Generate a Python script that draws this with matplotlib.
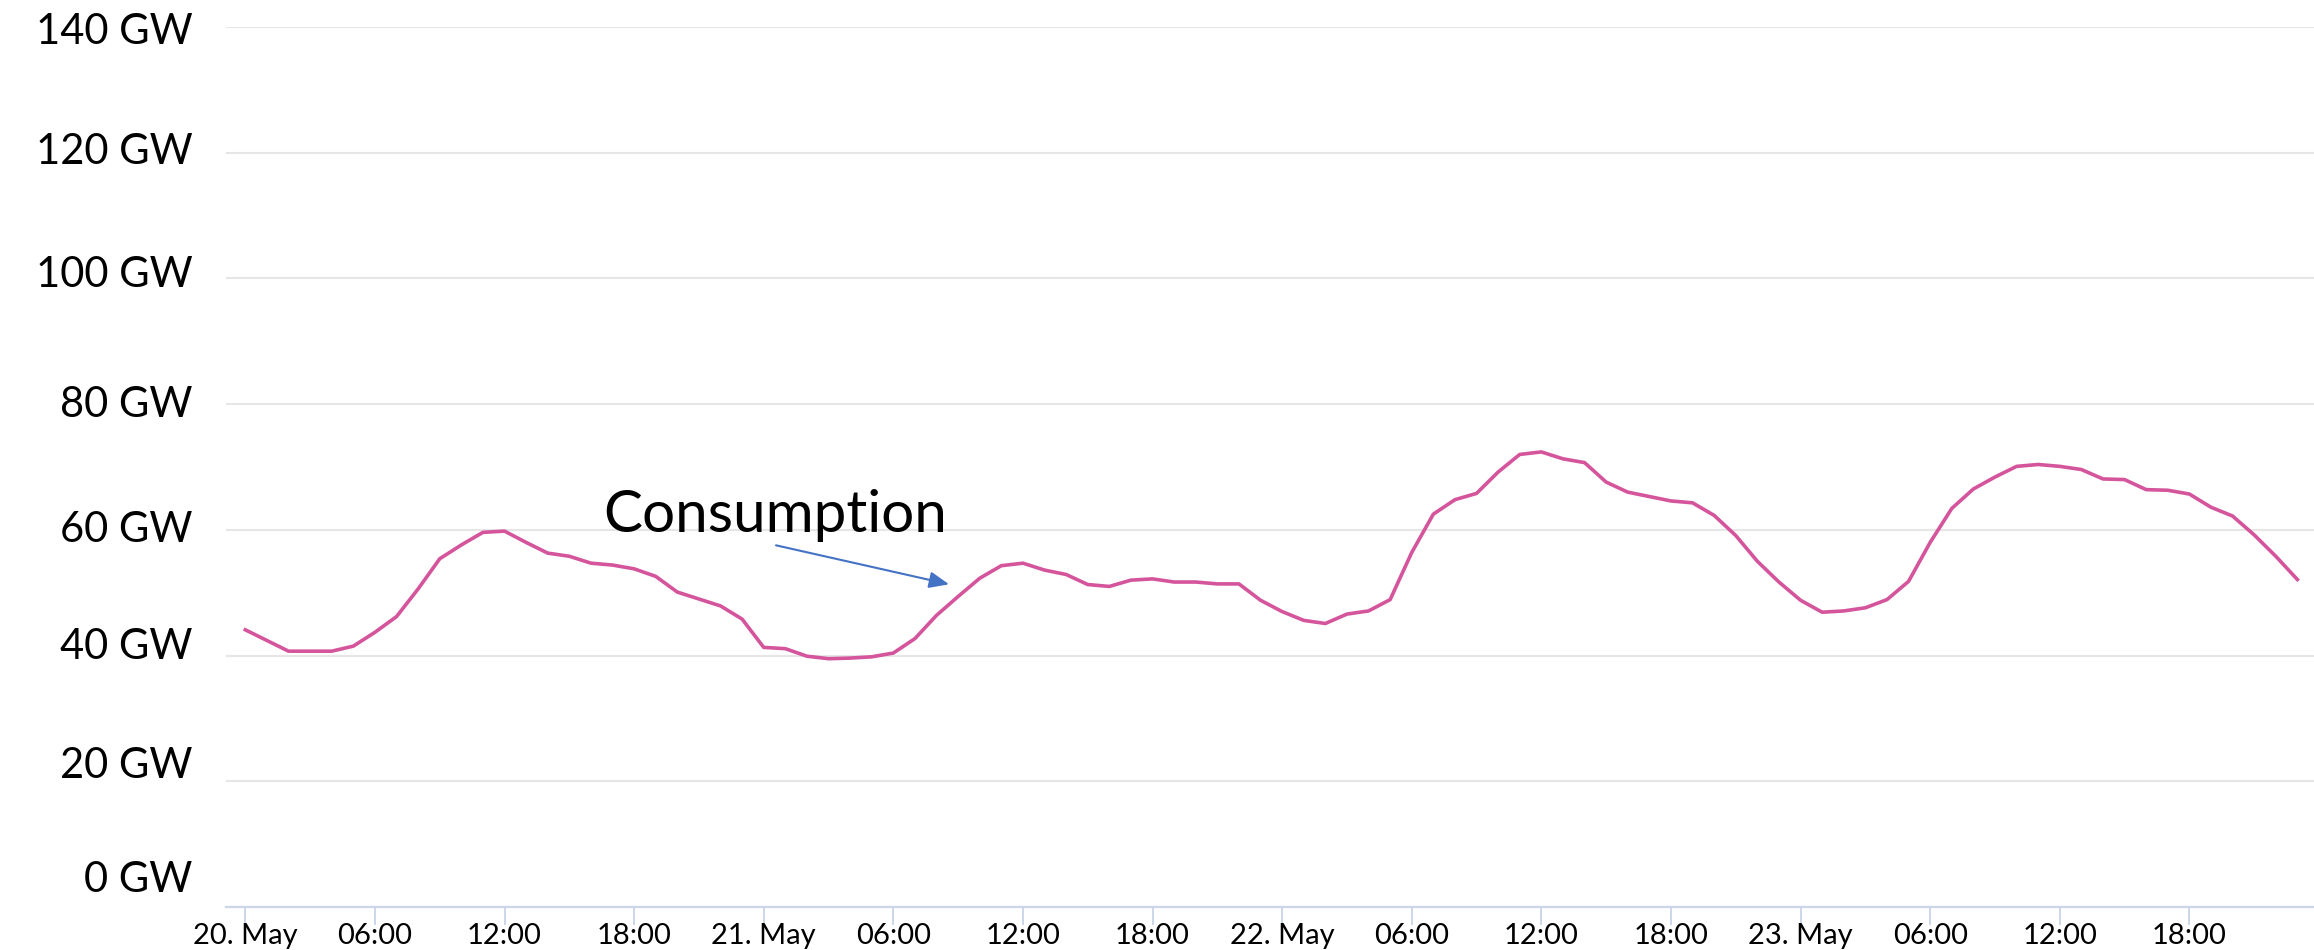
import numpy as np
import matplotlib
matplotlib.use("Agg")
import matplotlib.pyplot as plt
from matplotlib.transforms import ScaledTranslation

# hourly consumption, 20 May 00:00 .. 23 May 23:00 (GW)
consumption = [
    44.1, 42.4, 40.7, 40.7, 40.7, 41.5, 43.7, 46.2, 50.6, 55.4, 57.6, 59.6,
    59.8, 58.0, 56.3, 55.8, 54.7, 54.4, 53.8, 52.6, 50.1, 49.0, 47.9, 45.8,
    41.3, 41.1, 39.9, 39.5, 39.6, 39.8, 40.4, 42.7, 46.4, 49.4, 52.3, 54.3,
    54.7, 53.6, 52.9, 51.3, 51.0, 52.0, 52.2, 51.7, 51.7, 51.4, 51.4, 48.8,
    47.0, 45.6, 45.1, 46.6, 47.1, 48.9, 56.4, 62.5, 64.8, 65.8, 69.2, 72.0,
    72.4, 71.3, 70.7, 67.6, 66.0, 65.3, 64.6, 64.3, 62.3, 59.1, 55.0, 51.7,
    48.8, 46.9, 47.1, 47.6, 48.9, 51.8, 58.0, 63.4, 66.5, 68.4, 70.1, 70.4,
    70.1, 69.6, 68.1, 68.0, 66.4, 66.3, 65.7, 63.6, 62.2, 59.2, 55.8, 52.1,
]
hours = np.arange(len(consumption))

tick_hours = np.arange(0, 96, 6)
tick_labels = ['20. May', '06:00', '12:00', '18:00',
               '21. May', '06:00', '12:00', '18:00',
               '22. May', '06:00', '12:00', '18:00',
               '23. May', '06:00', '12:00', '18:00']
y_ticks = [0, 20, 40, 60, 80, 100, 120, 140]
y_labels = ['%d GW' % v for v in y_ticks]
# the y labels in the picture drift a little off their grid lines (pixels, + = up)
y_label_nudge = [30, 19, 12, 3, 3, 7, 4, -1]

plt.rcParams['font.family'] = ['Lato', 'DejaVu Sans']

fig = plt.figure(figsize=(23.14, 9.5), dpi=100)
ax = fig.add_axes([226 / 2314, 43 / 950, 1 - 226 / 2314, 880 / 950])

ax.plot(hours, consumption, color='#d4559b', lw=2.6, solid_joinstyle='round', zorder=3)

ax.set_xlim(-0.894, 95.77)
ax.set_ylim(0, 140)

ax.set_yticks(y_ticks)
ax.set_yticklabels(y_labels, fontsize=30)
ax.set_xticks(tick_hours)
ax.set_xticklabels(tick_labels, fontsize=21)

ax.grid(axis='y', color='#e6e6e6', lw=1.5)
ax.set_axisbelow(True)
for side in ['top', 'right', 'left']:
    ax.spines[side].set_visible(False)
ax.spines['bottom'].set_color('#ccd6eb')
ax.spines['bottom'].set_linewidth(1.6)
ax.tick_params(axis='y', length=0, pad=24)
ax.tick_params(axis='x', length=13, width=1.4, color='#ccd6eb', pad=-1.5)

for lab, dy in zip(ax.get_yticklabels(), y_label_nudge):
    lab.set_transform(lab.get_transform() + ScaledTranslation(0, dy / 100, fig.dpi_scale_trans))

ax.text(16.56, 59.66, 'Consumption', fontsize=42, ha='left', va='baseline', zorder=4)
ax.annotate('', xy=(32.58, 51.34), xytext=(24.57, 57.54),
            arrowprops=dict(arrowstyle='-|>,head_length=0.6,head_width=0.25',
                            color='#4472c4', lw=1.5, mutation_scale=20,
                            shrinkA=0, shrinkB=0),
            zorder=4)

fig.savefig('out.png', dpi=100)
